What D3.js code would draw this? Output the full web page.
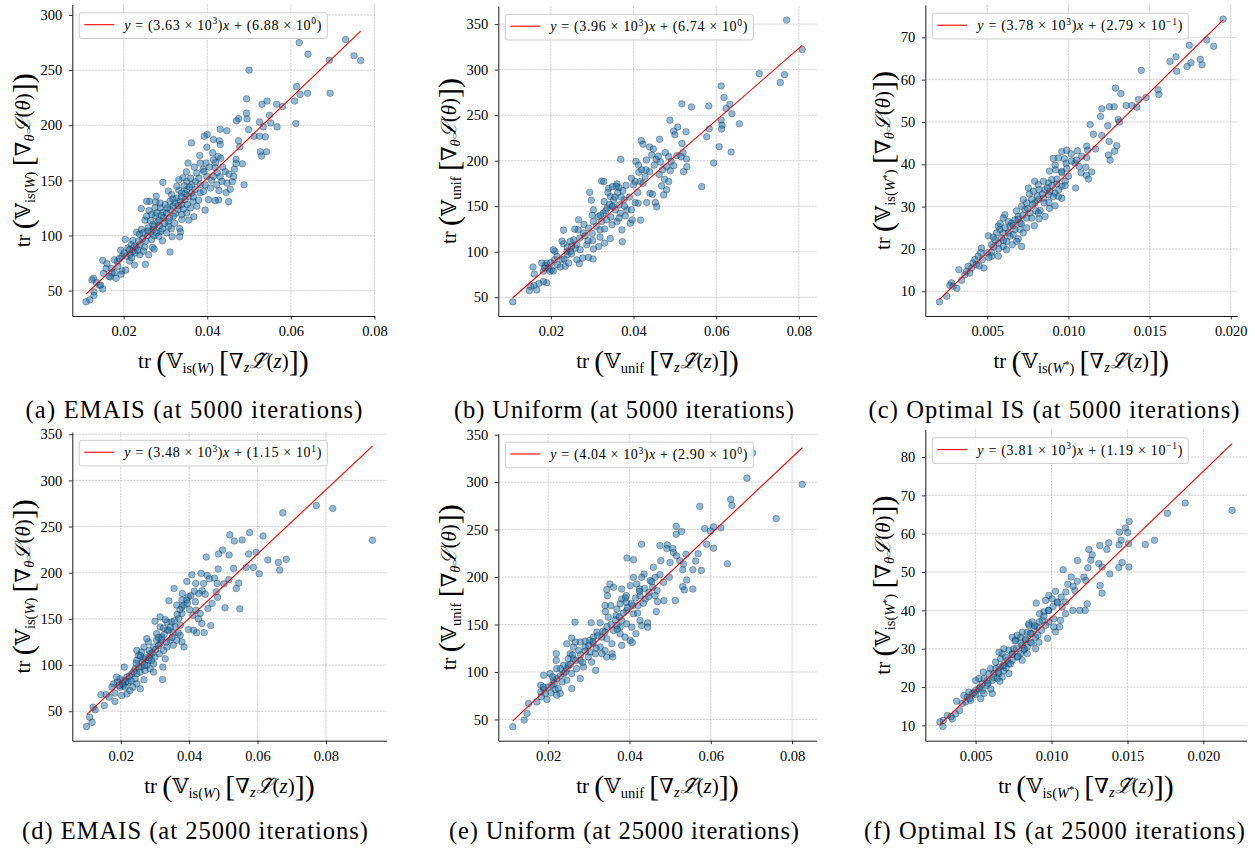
<!DOCTYPE html>
<html>
<head>
<meta charset="utf-8">
<script src="https://cdn.jsdelivr.net/npm/d3@7"></script>
<style>
  body { margin: 0; background: #fff; }
  svg { display: block; }
  text { font-family: "Liberation Serif", "DejaVu Serif", serif; fill: #000; }
</style>
</head>
<body>
<svg id="fig" width="1255" height="848"></svg>
<script>
//
// Data
//

// (a) EMAIS, 5000 iterations
var emais5k = [
  [0.0731,277.7],[0.0620,275],[0.0641,264.5],[0.0751,263],[0.0767,258.7],[0.0692,259],[0.0500,250],[0.0614,235],
  [0.0622,228],[0.0640,229],[0.0694,229],[0.0609,222],[0.0612,201.5],[0.0494,224],[0.0543,222],[0.0531,219],
  [0.0566,219],[0.0580,217],[0.0549,209],[0.0494,211],[0.0495,205.7],[0.0475,206],[0.0470,204],[0.0552,202],
  [0.0525,203],[0.0567,198.5],[0.0534,198.5],[0.0499,196],[0.0512,190],[0.0525,190],[0.0539,189.5],[0.0431,196.4],
  [0.0447,195],[0.0400,191.6],[0.0393,190],[0.0415,187],[0.0429,186],[0.0431,182.5],[0.0362,184],[0.0399,180],
  [0.0475,186],[0.0478,180.4],[0.0527,176],[0.0542,176],[0.0530,172],[0.0413,175],[0.0426,171.7],[0.0382,172.6],
  [0.0432,170],[0.0469,169],[0.0484,165],[0.0469,165.4],[0.0354,165.7],[0.0397,165.7],[0.0369,162],[0.0419,161.7],
  [0.0390,160],[0.0350,157.8],[0.0443,158],[0.0452,155.7],[0.0424,157],[0.0415,153.6],[0.0431,153.3],[0.0342,152.4],
  [0.0332,150.6],[0.0372,148.8],[0.0395,146],[0.0460,148.8],[0.0447,147.6],[0.0488,146],[0.0428,140.7],[0.0445,138.9],
  [0.0427,132.2],[0.0419,131.6],[0.0451,130.7],[0.0403,132.5],[0.0395,123],[0.0294,148.2],[0.0307,140.4],[0.0332,141],
  [0.0347,138],[0.0379,132],[0.0375,126.5],[0.0368,117],[0.0356,114],[0.0339,114.5],[0.0324,120],[0.0318,126.5],
  [0.0278,135.5],[0.0262,131],[0.0277,130.4],[0.0242,124.4],[0.0261,122.6],[0.0288,125],[0.0294,121],[0.0307,112.6],
  [0.0276,118],[0.0281,112],[0.0251,113.9],[0.0264,113.5],[0.0231,103],[0.0238,101.2],[0.0257,99.7],[0.0273,99.7],
  [0.0288,103.6],[0.0293,106],[0.0303,102.4],[0.0314,106],[0.0316,98.8],[0.0334,106.3],[0.0336,103.3],[0.0334,98.8],
  [0.0293,95.2],[0.0269,89.2],[0.0273,87.6],[0.0250,89.5],[0.0222,95.5],[0.0204,96.4],[0.0218,91.6],[0.0210,88.6],
  [0.0227,84],[0.0239,82.5],[0.0260,82.5],[0.0311,85],[0.0252,73.8],[0.0226,73.2],[0.0214,76.8],[0.0193,86.7],
  [0.0196,81],[0.0185,76.5],[0.0178,78],[0.0150,77.4],[0.0160,74.4],[0.0171,70],[0.0158,70],[0.0152,65.7],
  [0.0168,62.4],[0.0182,61.1],[0.0178,66.3],[0.0196,67.8],[0.0205,68.7],[0.0194,64.8],[0.0128,61.1],[0.0135,57.2],
  [0.0142,54.8],[0.0150,51.5],[0.0129,48.8],[0.0129,45.5],[0.0119,41.6],[0.0110,39.8],[0.0124,59.6],[0.0145,55.1],
  [0.0243,105.4],[0.0247,102.4],[0.0259,107],[0.0265,103],[0.0271,105.4],[0.0279,102.4],[0.0284,99.4],[0.0267,96.4],
  [0.0253,94.9],[0.0239,91.9],[0.0230,88.9],[0.0222,85.8],[0.0234,86.7],[0.0247,85.8],[0.0215,82.8],[0.0206,81.3],
  [0.0219,79.8],[0.0303,120.5],[0.0311,123.5],[0.0319,117.5],[0.0331,123.5],[0.0339,128],[0.0347,132.5],[0.0355,135.5],
  [0.0363,138.6],[0.0371,141.6],[0.0351,141.6],[0.0339,138.6],[0.0327,134],[0.0335,131],[0.0323,129.5],[0.0311,131],
  [0.0299,128],[0.0287,129.5],[0.0295,116],[0.0307,108.4],[0.0286,109],[0.0273,108.4],[0.0339,119],[0.0351,120.5],
  [0.0360,125],[0.0383,138.6],[0.0391,140],[0.0383,146],[0.0363,146],[0.0351,149],[0.0399,153.6],[0.0408,143],
  [0.0375,156.6],[0.0327,144.6],[0.0315,137],[0.0275,125],[0.0267,119],[0.0255,117.5],[0.0279,120.5],[0.0255,131],
  [0.0383,165.7],[0.0415,168.7],[0.0435,149.1],[0.0423,146],[0.0463,153.6],[0.0660,296.7],
  [0.0285,114],[0.0298,111],[0.0310,116],[0.0322,111],[0.0330,127],[0.0343,124],[0.0352,128],[0.0366,131],
  [0.0357,144],[0.0345,145],[0.0338,135],[0.0318,133],[0.0305,125],[0.0290,118],[0.0270,110],[0.0258,104],
  [0.0245,97],[0.0236,95],[0.0226,90],[0.0214,87],[0.0201,84],[0.0190,79],[0.0186,72],[0.0172,66],
  [0.0165,63],[0.0380,152],[0.0392,158],[0.0405,162],[0.0410,150],[0.0420,166],[0.0437,162],[0.0455,142],
  [0.0465,160],[0.0360,152],[0.0367,135]
];

// (b) Uniform, 5000 iterations
var uniform5k = [
  [0.0770,354.4],[0.0808,322],[0.0704,295.6],[0.0765,294.5],[0.0755,285.8],[0.0612,282],[0.0619,269.4],[0.0517,262.4],
  [0.0540,259],[0.0582,260],[0.0633,262],[0.0624,257.3],[0.0638,251.5],[0.0488,244.5],[0.0507,236.9],[0.0497,232.5],
  [0.0527,231.8],[0.0500,228.5],[0.0583,235],[0.0577,226.3],[0.0612,244.5],[0.0614,239],[0.0613,234.7],[0.0656,240.5],
  [0.0419,222],[0.0463,223.4],[0.0423,218],[0.0517,219],[0.0607,215.3],[0.0636,209.5],[0.0594,197.5],[0.0565,171.5],
  [0.0369,201.5],[0.0406,199.3],[0.0412,195],[0.0413,187.2],[0.0439,215],[0.0448,212.8],[0.0444,206.2],[0.0431,200.7],
  [0.0455,201.5],[0.0465,198.5],[0.0477,208.8],[0.0485,204.4],[0.0505,205.5],[0.0520,208.8],[0.0515,204.4],[0.0528,201.8],
  [0.0491,199],[0.0480,193.4],[0.0489,189],[0.0497,194.5],[0.0521,188],[0.0529,193.4],[0.0462,185],[0.0475,179.6],
  [0.0485,177],[0.0468,172.3],[0.0480,168],[0.0473,162.4],[0.0439,188],[0.0428,182.5],[0.0416,177],[0.0404,177],
  [0.0395,180.7],[0.0400,173.4],[0.0423,175.2],[0.0440,164.2],[0.0446,163.1],[0.0432,154],[0.0453,154],[0.0456,149.3],
  [0.0411,153.3],[0.0404,154],[0.0417,134.7],[0.0392,131.4],[0.0397,135],[0.0373,111],[0.0344,114.6],[0.0323,177.7],
  [0.0328,177],[0.0294,165.3],[0.0298,156.6],[0.0329,155],[0.0340,169.7],[0.0349,171.5],[0.0360,174.5],[0.0365,170.4],
  [0.0374,167.2],[0.0344,160.6],[0.0352,157],[0.0348,149.6],[0.0356,146],[0.0368,142.3],[0.0380,139.4],[0.0384,146],
  [0.0366,151.5],[0.0377,157],[0.0336,147.8],[0.0327,142.3],[0.0315,138.7],[0.0303,146],[0.0323,133.2],[0.0335,135],
  [0.0348,129.6],[0.0360,133.2],[0.0372,124],[0.0303,133.2],[0.0291,126],[0.0279,120.4],[0.0267,135],[0.0266,124],
  [0.0283,117.5],[0.0287,107.7],[0.0301,112.4],[0.0319,124],[0.0319,116],[0.0330,109.5],[0.0316,105.8],[0.0303,103],
  [0.0291,93.8],[0.0302,92],[0.0269,86.9],[0.0271,102.2],[0.0259,104],[0.0248,100.4],[0.0239,100.4],[0.0255,113],
  [0.0247,111.3],[0.0231,108.8],[0.0227,111.7],[0.0231,123.7],[0.0258,124.8],[0.0240,96.7],[0.0227,91.2],[0.0210,100.4],
  [0.0206,102.2],[0.0209,91.2],[0.0216,85.8],[0.0223,83.2],[0.0235,84],[0.0243,87.6],[0.0202,80.3],[0.0190,87.6],
  [0.0186,85],[0.0194,82.1],[0.0182,78.5],[0.0178,87.6],[0.0198,78.5],[0.0206,78.8],[0.0157,83.2],[0.0160,75.5],
  [0.0190,66],[0.0182,67.2],[0.0171,65],[0.0159,63],[0.0151,61.7],[0.0166,58],[0.0148,57.3],[0.0108,44.9],
  [0.0250,97.8],[0.0263,91.2],[0.0277,93],
  [0.0310,128],[0.0320,140],[0.0333,145],[0.0342,152],[0.0355,160],[0.0362,165],[0.0370,160],[0.0338,165],
  [0.0350,150],[0.0365,137],[0.0378,150],[0.0390,160],[0.0395,146],[0.0410,165],[0.0420,190],[0.0430,190],
  [0.0450,195],[0.0460,205],[0.0470,190],[0.0300,120],[0.0290,112],[0.0280,130],[0.0270,115],[0.0262,108],
  [0.0250,106],[0.0240,105],[0.0232,92],[0.0215,95],[0.0200,88],[0.0185,82],[0.0330,125],[0.0345,138],
  [0.0358,172],[0.0382,173],[0.0300,140]
];

// (c) Optimal IS, 5000 iterations
var optimal5k = [
  [0.01953,74.3],[0.01745,68.1],[0.01852,69.4],[0.01895,67.9],[0.0168,72],[0.01663,65.4],[0.01626,64.3],[0.01755,64],
  [0.01813,64.8],[0.01731,63.1],[0.01823,63.5],[0.01667,62],[0.01449,62.2],[0.0129,58],[0.01323,56.7],[0.01552,57.6],
  [0.01558,56.5],[0.01478,55.8],[0.01432,55.3],[0.01356,53.9],[0.01391,53.9],[0.01422,53.5],[0.01206,53.1],[0.01253,53.6],
  [0.01282,53.6],[0.01198,51.3],[0.01243,49.1],[0.01307,50.6],[0.01315,50],[0.01134,49.4],[0.01154,47.1],[0.01206,46.8],
  [0.01251,45.4],[0.01298,44.4],[0.01284,43.1],[0.01247,42.2],[0.01257,41],[0.01113,44.3],[0.01167,43.6],[0.01119,43.3],
  [0.01056,43.2],[0.01082,41.9],[0.01113,41.6],[0.00959,43],[0.0099,43.3],[0.01017,42.5],[0.00975,41.3],[0.00938,41.5],
  [0.00907,41.4],[0.01041,40.3],[0.01066,39.5],[0.01078,38],[0.01107,39.3],[0.01144,38.2],[0.01111,37.4],[0.01124,36.5],
  [0.01045,34.4],[0.00986,40.2],[0.00918,39.8],[0.00883,38.4],[0.00922,38.7],[0.00959,38.3],[0.0100,37.2],[0.0098,36],
  [0.00959,34.8],[0.00928,35.4],[0.00897,36.4],[0.00877,35.6],[0.00846,36],[0.00815,35.2],[0.00792,36],[0.00753,34.4],
  [0.00784,33.6],[0.00819,34],[0.00856,34],[0.00886,33.6],[0.00918,33.2],[0.00959,32],[0.00938,32.4],[0.00907,32.4],
  [0.00877,32.8],[0.00846,32],[0.00815,31.7],[0.00794,30.9],[0.00774,31.7],[0.00743,30.9],[0.00722,31.7],[0.00712,30.1],
  [0.00733,29.3],[0.00764,28.5],[0.00825,29.1],[0.00856,27.7],[0.00883,29.6],[0.00918,30.2],[0.00819,27.1],[0.0079,25.5],
  [0.00774,27.3],[0.00743,27.3],[0.00691,27.7],[0.00671,26.9],[0.00702,26.1],[0.0065,26.1],[0.0063,26.5],[0.00609,28.1],
  [0.00599,27.3],[0.0064,25.4],[0.00671,24.6],[0.00702,24.6],[0.00722,23.8],[0.00743,25],[0.00691,22.4],[0.0066,23.4],
  [0.0063,23.8],[0.00599,23.8],[0.00578,24.6],[0.00568,25.4],[0.00558,23.8],[0.00588,22.6],[0.00619,21.8],[0.00599,20.6],
  [0.00619,19.8],[0.00568,21.4],[0.00547,22.2],[0.00527,21],[0.00506,23.1],[0.00537,22.8],[0.00527,19.2],[0.00568,18.3],
  [0.00527,18.3],[0.0050,19.1],[0.00479,15.5],[0.00465,20.2],[0.00461,19.1],[0.00444,18.3],[0.00424,17.5],[0.00412,16.7],
  [0.00434,16.3],[0.00403,15.5],[0.00383,15.9],[0.00372,14.7],[0.00393,14.3],[0.00362,13.9],[0.00342,12.6],[0.00325,15.1],
  [0.0028,12],[0.0027,11.4],[0.0029,11.2],[0.00313,10.7],[0.00251,8.8],[0.00206,7.5],[0.00654,21],[0.00681,21.8],
  [0.00712,20.6],[0.00815,28.5],[0.0085,30.9],
  [0.0061,25],[0.0066,25.5],[0.0069,27],[0.0072,28],[0.0075,29.5],[0.0078,30.5],[0.0081,32.5],[0.0084,33],
  [0.0087,34.5],[0.0090,35],[0.0093,36.5],[0.0096,38],[0.0099,39],[0.0102,40.8],[0.0105,41],[0.0060,22],
  [0.0057,20],[0.0054,20.5],[0.0051,18],[0.0047,17.5],[0.0045,16],[0.0058,26],[0.0064,23],[0.0068,29],
  [0.0071,26],[0.0076,33],[0.0080,29],[0.0088,31],[0.0094,34],[0.0098,35]
];

// (d) EMAIS, 25000 iterations
var emais25k = [
  [0.0936,235.1],[0.0772,272.8],[0.0820,269.6],[0.0674,264.8],[0.0519,241],[0.0577,243.5],[0.0616,239.8],[0.0555,235.5],
  [0.0532,234.4],[0.0498,224.6],[0.0486,220.3],[0.0517,219.2],[0.0574,220.3],[0.0596,222.1],[0.0450,217],[0.0630,213.8],
  [0.0684,214.5],[0.0661,211.2],[0.0665,202.9],[0.0530,204.7],[0.0567,205.8],[0.0588,205.8],[0.0605,198.9],[0.0485,204],
  [0.0408,197.8],[0.0435,199.3],[0.0453,197.1],[0.0459,193.5],[0.0474,194.2],[0.0482,188.4],[0.0502,188],[0.0516,192.7],
  [0.0545,188.8],[0.0538,183],[0.0393,190.6],[0.0419,188.4],[0.0442,188.4],[0.0438,180.4],[0.0428,177.5],[0.0447,176.8],
  [0.0479,179.3],[0.0483,173.2],[0.0467,166.7],[0.0455,161.2],[0.0505,162],[0.0548,160.9],[0.0356,183],[0.0380,177.5],
  [0.0398,173.9],[0.0379,170.3],[0.0393,170.3],[0.0418,168.5],[0.0341,169.6],[0.0364,164.9],[0.0379,163],[0.0401,160.1],
  [0.0420,159.4],[0.0432,155.8],[0.0411,154],[0.0427,150],[0.0437,144.9],[0.0444,135.1],[0.0463,142.8],[0.0422,135.1],
  [0.0398,138.4],[0.0413,137.7],[0.0379,155.8],[0.0369,150.4],[0.0374,143.1],[0.0359,141.3],[0.0349,146.7],[0.0335,146.7],
  [0.0340,137.7],[0.0354,134.1],[0.0374,132.2],[0.0344,126.8],[0.0364,126.8],[0.0379,125],[0.0385,119.6],[0.0354,121.4],
  [0.0335,119.6],[0.0315,123.2],[0.0320,130.4],[0.0305,134.1],[0.0315,141.3],[0.0300,147.5],[0.0315,152.2],[0.0330,149.3],
  [0.0305,126.8],[0.0296,119.6],[0.0281,125],[0.0276,128.6],[0.0268,119.6],[0.0286,112.3],[0.0300,108.7],[0.0313,112.3],
  [0.0325,115.9],[0.0330,106.9],[0.0323,97.8],[0.0322,84.4],[0.0296,101.4],[0.0281,105.1],[0.0266,106.9],[0.0252,110.5],
  [0.0247,115.9],[0.0261,114.1],[0.0276,99.6],[0.0261,97.8],[0.0247,105.1],[0.0242,96],[0.0232,90.6],[0.0247,90.6],
  [0.0257,92.4],[0.0271,94.2],[0.0286,96],[0.0296,92.4],[0.0242,85.1],[0.0268,84.1],[0.0247,79.7],[0.0257,74.3],
  [0.0235,76.1],[0.0222,81.5],[0.0210,97.8],[0.0218,87],[0.0208,83.3],[0.0198,85.1],[0.0190,81.5],[0.0179,79.7],
  [0.0174,76.1],[0.0198,76.1],[0.0208,77.9],[0.0218,68.8],[0.0203,67],[0.0183,69.6],[0.0183,60.5],[0.0166,65.2],
  [0.0142,67.8],[0.0157,68.1],[0.0152,56.2],[0.0125,51.5],[0.0119,54.4],[0.0109,43.5],[0.0116,38],[0.0100,33.3],
  [0.0188,87],[0.0227,72.5],[0.0213,76.1],[0.0283,115.9],[0.0333,125],
  [0.0225,88],[0.0238,93],[0.0252,98],[0.0263,103],[0.0272,108],[0.0283,108],[0.0292,113],[0.0302,117],
  [0.0310,121],[0.0318,128],[0.0327,133],[0.0336,138],[0.0345,141],[0.0357,148],[0.0365,155],[0.0373,160],
  [0.0385,165],[0.0395,167],[0.0405,175],[0.0415,180],[0.0215,82],[0.0205,80],[0.0195,78],[0.0230,83],
  [0.0245,102],[0.0258,110],[0.0270,100],[0.0290,105],[0.0310,130],[0.0325,140],[0.0350,130],[0.0368,135]
];

// (e) Uniform, 25000 iterations
var uniform25k = [
  [0.0703,330.8],[0.0689,304.2],[0.0825,297.6],[0.0649,281.8],[0.0652,275.5],[0.0573,274.5],[0.0761,261.6],[0.0515,253.5],
  [0.0528,247.9],[0.0515,245.1],[0.0585,251.1],[0.0607,252.8],[0.0625,251.8],[0.0599,248.6],[0.0430,234.6],[0.0475,233.2],
  [0.0493,233.9],[0.0492,230],[0.0507,230],[0.0590,234.6],[0.0607,230.4],[0.0508,225.9],[0.0516,222.4],[0.0539,224.1],
  [0.0524,217.2],[0.0569,224.5],[0.0563,216.8],[0.0533,213.7],[0.0500,215.4],[0.0477,217.2],[0.0459,210.2],[0.0641,214],
  [0.0394,220],[0.0410,218.2],[0.0531,207.7],[0.0577,207],[0.0556,207.7],[0.0541,196.9],[0.0531,189.9],[0.0535,186.4],
  [0.0556,187.4],[0.0513,175.2],[0.0498,199.7],[0.0484,194.4],[0.0475,202.5],[0.0463,199.7],[0.0451,196.2],[0.0457,189.2],
  [0.0468,185.7],[0.0463,180.4],[0.0485,175.2],[0.0469,174.1],[0.0466,163.6],[0.0436,203.2],[0.0430,199.7],[0.0410,199.7],
  [0.0418,192.7],[0.0402,190.9],[0.0425,187.4],[0.0426,180.4],[0.0439,176.9],[0.0447,179.4],[0.0434,172.4],[0.0421,169.9],
  [0.0408,169.9],[0.0410,161.2],[0.0393,164.7],[0.0392,180.4],[0.0381,176.9],[0.0392,173.4],[0.0377,171.7],[0.0369,166.4],
  [0.0381,187.4],[0.0352,192.7],[0.0361,189.2],[0.0344,186.7],[0.0346,180.4],[0.0354,169.9],[0.0340,169.9],[0.0341,163.6],
  [0.0348,157.7],[0.0367,159.4],[0.0381,154.2],[0.0393,150.7],[0.0406,147.2],[0.0377,147.2],[0.0369,149],[0.0361,143.7],
  [0.0377,140.2],[0.0389,136.7],[0.0402,133.2],[0.0407,131.1],[0.0416,140.2],[0.0426,154.2],[0.0445,151.8],[0.0445,147.2],
  [0.0430,149],[0.0381,128],[0.0357,129.7],[0.0344,135],[0.0332,136.7],[0.0320,142],[0.0306,151.8],[0.0328,151.8],
  [0.0311,136.7],[0.0311,129.7],[0.0328,126.2],[0.0340,122.7],[0.0357,119.2],[0.0359,115.7],[0.0344,115.7],[0.0332,119.2],
  [0.0316,119.2],[0.0303,121],[0.0299,115.7],[0.0307,110.5],[0.0317,101.7],[0.0291,126.2],[0.0279,131.5],[0.0291,132.5],
  [0.0267,131.5],[0.0275,122.7],[0.0262,126.2],[0.0266,152.5],[0.0258,135.7],[0.0246,129.7],[0.0254,119.2],[0.0250,114],
  [0.0262,114],[0.0279,112.2],[0.0287,105.2],[0.0279,93],[0.0270,103.5],[0.0258,98.3],[0.0246,103.5],[0.0238,107],
  [0.0230,103.5],[0.0221,103.5],[0.0220,119.2],[0.0220,112.2],[0.0238,98.3],[0.0246,91.3],[0.0234,89.5],[0.0221,93],
  [0.0213,91.3],[0.0209,86],[0.0217,81.5],[0.0225,82.5],[0.0258,82.5],[0.0230,77.3],[0.0221,75.5],[0.0205,98.3],
  [0.0189,96.5],[0.0182,86],[0.0189,81.5],[0.0182,79],[0.0193,77.3],[0.0207,78],[0.0197,71],[0.0183,73.8],
  [0.0172,68.5],[0.0152,66.8],[0.0148,56.3],[0.0141,49.3],[0.0113,42.3],[0.0211,94.8],[0.0250,107],[0.0302,133.2],
  [0.0255,108],[0.0268,112],[0.0280,118],[0.0292,122],[0.0300,128],[0.0310,132],[0.0322,138],[0.0335,143],
  [0.0345,148],[0.0355,150],[0.0365,155],[0.0375,158],[0.0385,162],[0.0395,168],[0.0405,172],[0.0415,178],
  [0.0425,185],[0.0437,188],[0.0448,184],[0.0455,195],[0.0242,100],[0.0230,96],[0.0215,88],[0.0200,84],
  [0.0188,84],[0.0260,118],[0.0285,110],[0.0318,125],[0.0340,142],[0.0370,145],[0.0390,178],[0.0420,162]
];

// (f) Optimal IS, 25000 iterations
var optimal25k = [
  [0.02189,66.1],[0.0188,68],[0.01763,65.3],[0.01678,58.3],[0.01618,57.2],[0.01511,63.2],[0.01487,61.5],[0.01447,60.4],
  [0.01502,60.3],[0.01458,58.3],[0.01507,57.4],[0.01445,57.1],[0.01377,57.6],[0.01318,56.9],[0.01364,55.9],[0.01246,55.9],
  [0.01268,54.5],[0.01259,53.1],[0.01171,53],[0.01311,52.2],[0.01333,51.3],[0.01465,52.5],[0.01509,51.3],[0.01443,51.2],
  [0.01384,49.5],[0.01077,50.6],[0.01239,51.1],[0.0132,46.5],[0.01333,44.5],[0.01129,48.7],[0.01169,47.6],[0.01213,48.7],
  [0.01226,47.8],[0.01107,46.8],[0.01154,45.2],[0.01142,46.3],[0.01235,41.7],[0.0114,40],[0.01186,40],[0.01222,40],
  [0.01094,44.8],[0.01064,43.5],[0.01026,45],[0.00982,43.9],[0.01004,43],[0.00961,42.6],[0.00899,41.9],[0.01037,42.2],
  [0.01092,42.2],[0.0107,40.9],[0.01092,39.1],[0.01059,37.4],[0.01053,35.7],[0.01026,34.4],[0.00974,32.7],[0.01015,37.8],
  [0.00982,40],[0.0095,39.6],[0.00921,39.1],[0.00939,37.4],[0.00982,37],[0.01015,35.7],[0.00961,36.1],[0.00934,34.8],
  [0.00906,35.7],[0.00873,37],[0.00851,36.1],[0.00884,35.2],[0.00868,33.9],[0.0084,34.3],[0.00807,34.3],[0.00796,33],
  [0.00774,33.5],[0.00741,33],[0.00763,32.2],[0.00829,32.2],[0.00862,31.7],[0.00895,30],[0.0084,30.4],[0.00807,30.9],
  [0.00818,29.6],[0.0084,28.7],[0.00796,28.7],[0.00774,27.8],[0.00807,27],[0.00741,27],[0.00719,29.6],[0.00752,30],
  [0.00686,30],[0.00675,28.7],[0.00654,29.1],[0.00664,27.4],[0.00697,27.8],[0.00719,26.1],[0.00686,25.7],[0.00654,25.2],
  [0.00632,26.5],[0.00632,24.8],[0.00599,24.8],[0.00588,23.5],[0.00621,23.5],[0.00654,23.5],[0.00675,22.6],[0.00643,22.2],
  [0.0061,21.7],[0.00577,21.7],[0.00555,22.2],[0.0055,23.9],[0.00522,22.2],[0.0050,21.7],[0.00544,20.9],[0.00577,20.4],
  [0.00544,19.1],[0.00555,18.3],[0.00522,19.6],[0.0050,19.1],[0.00478,18.3],[0.00456,18.7],[0.00445,17.4],[0.00467,16.5],
  [0.00423,17.8],[0.00434,16.1],[0.00412,15.7],[0.00375,16.3],[0.00533,17],[0.0050,18.1],[0.00395,13.9],[0.00368,13],
  [0.00346,11.7],[0.00338,12.3],[0.00314,12.6],[0.00287,11.3],[0.00265,10.9],[0.00285,9.7],[0.00719,23.5],[0.0061,18.3],
  [0.00686,24.3],[0.00741,28.7],[0.00895,33],[0.00917,31.7],
  [0.0058,21],[0.0062,22.5],[0.0065,24],[0.0068,25.5],[0.0071,27],[0.0074,28.5],[0.0077,30],[0.0080,31.5],
  [0.0083,32.5],[0.0086,34],[0.0089,36],[0.0092,37],[0.0095,38.5],[0.0098,40],[0.0101,41],[0.0104,42],
  [0.0053,20],[0.0049,18.5],[0.0046,17],[0.0060,19.5],[0.0066,21.5],[0.0070,25],[0.0073,26],[0.0078,28],
  [0.0082,30],[0.0087,31.5],[0.0091,33.5],[0.0085,36.5],[0.0076,32]
];

// least-squares fits printed in the legends
var fitSlope = [3.63e3, 3.96e3, 3.78e3, 3.48e3, 4.04e3, 3.81e3]
var fitIntercept = [6.88e0, 6.74e0, 2.79e-1, 1.15e1, 2.90e0, 1.19e-1]

var captions = [
  '(a) EMAIS (at 5000 iterations)',
  '(b) Uniform (at 5000 iterations)',
  '(c) Optimal IS (at 5000 iterations)',
  '(d) EMAIS (at 25000 iterations)',
  '(e) Uniform (at 25000 iterations)',
  '(f) Optimal IS (at 25000 iterations)'
]

var xTicksWide = [0.02, 0.04, 0.06, 0.08]
var xTicksNarrow = [0.005, 0.010, 0.015, 0.020]
var yTicks = [
  [50, 100, 150, 200, 250, 300],
  [50, 100, 150, 200, 250, 300, 350],
  [10, 20, 30, 40, 50, 60, 70],
  [50, 100, 150, 200, 250, 300, 350],
  [50, 100, 150, 200, 250, 300, 350],
  [10, 20, 30, 40, 50, 60, 70, 80]
]

//
// Layout
//

var boxes = [
  {l: 72.3, r: 374.4, t: 4.5, b: 316},
  {l: 498.3, r: 816.7, t: 6, b: 316},
  {l: 925.3, r: 1237.3, t: 5, b: 316},
  {l: 72.3, r: 386.7, t: 432, b: 740.7},
  {l: 498.3, r: 816.7, t: 433.8, b: 740.7},
  {l: 925.3, r: 1246.7, t: 429.4, b: 740.7}
]
var captionX = [194, 624, 1054, 195, 624, 1054.5]
var captionY = [418, 418, 418, 839, 839, 839]
var captionW = [337, 340, 371, 346, 350, 381]
var legendTextW = [197, 197, 205, 197, 197, 205]

var datasets = [emais5k, uniform5k, optimal5k, emais25k, uniform25k, optimal25k]

// subscript of the variance operator
var subIsW = [{t: 'is('}, {t: 'W', i: true}, {t: ')'}]
var subUnif = [{t: 'unif'}]
var subIsWstar = [{t: 'is('}, {t: 'W', i: true}, {t: '*', up: true}, {t: ')'}]
var subs = [subIsW, subUnif, subIsWstar, subIsW, subUnif, subIsWstar]

var svg = d3.select('#fig')

//
// Functions
//

// append a run of tspans, each with its own size, style and baseline offset
function mathText(text, parts) {
  var cur = 0
  parts.forEach(function(p) {
    var off = p.off || 0
    text.append('tspan')
      .attr('dy', off - cur)
      .attr('font-size', p.s)
      .attr('font-style', p.i ? 'italic' : null)
      .text(p.t)
    cur = off
  })
}

function traceLabel(sub, gradVar, gradArg, tilde) {
  var big = 30, norm = 21, small = 14.5
  var parts = [
    {t: 'tr ', s: norm},
    {t: '(', s: big, off: 3},
    {t: '\uD835\uDD4D', s: norm},
  ]
  sub.forEach(function(p) {
    parts.push({t: p.t, s: p.up ? 10 : small, i: p.i, off: p.up ? 0 : 5})
  })
  parts.push({t: ' ', s: norm})
  parts.push({t: '[', s: big, off: 3})
  parts.push({t: '\u2207', s: norm})
  parts.push({t: gradVar, s: small, i: true, off: 4})
  parts.push({t: tilde ? '\u2112\u0303' : '\u2112', s: norm, i: true})
  parts.push({t: '(', s: norm})
  parts.push({t: gradArg, s: norm, i: true})
  parts.push({t: ')', s: norm})
  parts.push({t: ']', s: big, off: 3})
  parts.push({t: ')', s: big, off: 3})
  return parts
}

function sci(v) {
  var e = Math.floor(Math.log10(Math.abs(v)))
  var m = v / Math.pow(10, e)
  return {m: m.toFixed(2), e: String(e).replace('-', '\u2212')}
}

function drawPanel(i) {
  var data = datasets[i]
  var box = boxes[i]
  var a = fitSlope[i], c = fitIntercept[i]
  var narrow = (i % 3 === 2)

  var xExt = d3.extent(data, function(d) { return d[0] })
  var fitLine = xExt.map(function(x) { return [x, a * x + c] })
  var yExt = d3.extent(data.concat(fitLine), function(d) { return d[1] })
  var xPad = (xExt[1] - xExt[0]) * 0.05
  var yPad = (yExt[1] - yExt[0]) * 0.05

  var x = d3.scaleLinear().domain([xExt[0] - xPad, xExt[1] + xPad]).range([box.l, box.r])
  var y = d3.scaleLinear().domain([yExt[0] - yPad, yExt[1] + yPad]).range([box.b, box.t])

  var g = svg.append('g')
  var xTicks = narrow ? xTicksNarrow : xTicksWide
  var xFmt = narrow ? d3.format('.3f') : d3.format('.2f')

  // grid
  g.append('g').selectAll('line').data(xTicks).join('line')
    .attr('x1', function(d) { return x(d) }).attr('x2', function(d) { return x(d) })
    .attr('y1', box.t).attr('y2', box.b)
    .attr('stroke', '#b0b0b0').attr('stroke-width', 0.6).attr('stroke-dasharray', '2.2,1')
  g.append('g').selectAll('line').data(yTicks[i]).join('line')
    .attr('y1', function(d) { return y(d) }).attr('y2', function(d) { return y(d) })
    .attr('x1', box.l).attr('x2', box.r)
    .attr('stroke', '#b0b0b0').attr('stroke-width', 0.6).attr('stroke-dasharray', '2.2,1')

  // points
  g.append('g').selectAll('circle').data(data).join('circle')
    .attr('cx', function(d) { return x(d[0]) })
    .attr('cy', function(d) { return y(d[1]) })
    .attr('r', 3.3)
    .attr('fill', '#1f77b4').attr('fill-opacity', 0.5)
    .attr('stroke', '#000').attr('stroke-opacity', 0.5).attr('stroke-width', 0.55)

  // fit
  g.append('path')
    .attr('d', d3.line().x(function(d) { return x(d[0]) }).y(function(d) { return y(d[1]) })(fitLine))
    .attr('fill', 'none').attr('stroke', 'red').attr('stroke-width', 1.1)

  // axes
  var xAxis = g.append('g').attr('transform', 'translate(0,' + box.b + ')')
    .call(d3.axisBottom(x).tickValues(xTicks).tickFormat(xFmt).tickSize(3.5).tickSizeOuter(0).tickPadding(6.5))
  var yAxis = g.append('g').attr('transform', 'translate(' + box.l + ',0)')
    .call(d3.axisLeft(y).tickValues(yTicks[i]).tickFormat(d3.format('d')).tickSize(3.5).tickSizeOuter(0).tickPadding(6.5))
  ;[xAxis, yAxis].forEach(function(ax) {
    ax.select('.domain').attr('stroke-width', 0.9)
    ax.selectAll('.tick line').attr('stroke-width', 0.8)
    ax.selectAll('.tick text')
      .attr('font-family', '"Liberation Serif", serif').attr('font-size', 14.5).attr('fill', '#111')
  })

  // axis labels
  var xl = g.append('text')
    .attr('x', (box.l + box.r) / 2).attr('y', box.b + 52)
    .attr('text-anchor', 'middle').style('white-space', 'pre')
  mathText(xl, traceLabel(subs[i], 'z', 'z', true))

  var yw = d3.max(yAxis.selectAll('.tick text').nodes(), function(n) { return n.getComputedTextLength() })
  var ylx = box.l - yw - 10 - 11
  var yl = g.append('text')
    .attr('transform', 'translate(' + ylx + ',' + (box.t + box.b) / 2 + ') rotate(-90)')
    .attr('text-anchor', 'middle').style('white-space', 'pre')
  mathText(yl, traceLabel(subs[i], '\u03B8', '\u03B8', false))

  // legend
  var lg = g.append('g').attr('transform', 'translate(' + (box.l + 7) + ',' + (box.t + 8.3) + ')')
  var rect = lg.append('rect')
    .attr('height', 25.7).attr('rx', 2.5)
    .attr('fill', '#fff').attr('fill-opacity', 0.8)
    .attr('stroke', '#cccccc').attr('stroke-width', 1)
  lg.append('line').attr('x1', 5).attr('x2', 35).attr('y1', 11.9).attr('y2', 11.9)
    .attr('stroke', 'red').attr('stroke-width', 1.1)
  var sa = sci(a), sc = sci(c)
  var lt = lg.append('text').attr('x', 45).attr('y', 17).style('white-space', 'pre')
    .attr('textLength', legendTextW[i]).attr('lengthAdjust', 'spacing')
  mathText(lt, [
    {t: 'y', s: 14, i: true},
    {t: ' = (' + sa.m + ' \u00D7 10', s: 14},
    {t: sa.e, s: 9.5, off: -5.5},
    {t: ')', s: 14},
    {t: 'x', s: 14, i: true},
    {t: ' + (' + sc.m + ' \u00D7 10', s: 14},
    {t: sc.e, s: 9.5, off: -5.5},
    {t: ')', s: 14}
  ])
  rect.attr('width', 45 + legendTextW[i] + 6)

  // caption
  svg.append('text')
    .attr('x', captionX[i]).attr('y', captionY[i])
    .attr('text-anchor', 'middle')
    .attr('font-family', '"Liberation Serif", serif')
    .attr('font-size', 24.5)
    .attr('textLength', captionW[i]).attr('lengthAdjust', 'spacing')
    .text(captions[i])
}

//
// Initialization
//

for (var i = 0; i < 6; i++) drawPanel(i)
</script>
</body>
</html>
